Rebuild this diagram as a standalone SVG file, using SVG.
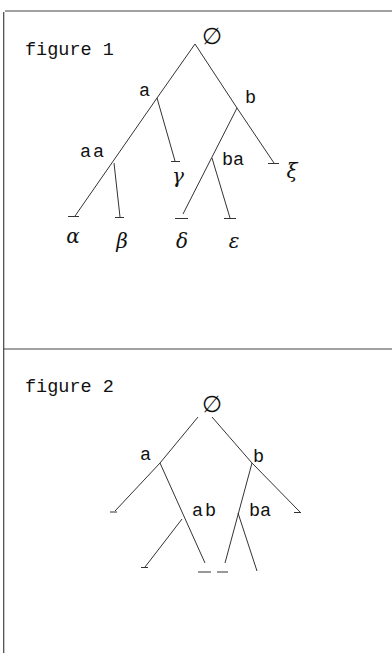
<svg xmlns="http://www.w3.org/2000/svg" width="392" height="653" viewBox="0 0 392 653">
<style>
.t{font-family:"Liberation Mono","DejaVu Sans Mono",monospace;font-size:18.5px;fill:#111}
.g{font-family:"DejaVu Serif","Liberation Serif",serif;font-style:italic;font-size:20px;fill:#111}
.e{font-family:"DejaVu Sans",sans-serif;font-size:23px;fill:#111}
.c line{stroke:#333;stroke-width:1;fill:none}
.f{stroke:#444;stroke-width:1.2;fill:none}
</style>
<rect width="392" height="653" fill="#fff"/>
<g id="frame">
<line class="f" x1="3.7" y1="12" x2="3.7" y2="653"/>
<line class="f" x1="5" y1="11" x2="392" y2="11"/>
<line class="f" x1="4" y1="349" x2="392" y2="349"/>
</g>
<text class="t" x="25" y="55">figure 1</text>
<text class="t" x="25" y="392">figure 2</text>
<g class="c" id="connectors1">
<line x1="195" y1="44" x2="157" y2="98"/>
<line x1="195" y1="44" x2="237" y2="108"/>
<line x1="157" y1="98" x2="75" y2="216"/>
<line x1="114" y1="163" x2="120" y2="217"/>
<line x1="157" y1="98" x2="175" y2="161"/>
<line x1="237" y1="108" x2="183" y2="214"/>
<line x1="212" y1="158" x2="230" y2="218"/>
<line x1="237" y1="108" x2="274" y2="163"/>
<line x1="68" y1="216.5" x2="79" y2="216.5"/>
<line x1="115" y1="217.5" x2="124" y2="217.5"/>
<line x1="171" y1="161.5" x2="180" y2="161.5"/>
<line x1="175" y1="218.5" x2="188" y2="218.5"/>
<line x1="224" y1="218.5" x2="236" y2="218.5"/>
<line x1="268" y1="163.5" x2="279" y2="163.5"/>
</g>
<g id="f1-root"><text class="e" x="202" y="44">∅</text></g>
<g id="f1-a"><text class="t" x="139" y="96">a</text></g>
<g id="f1-b"><text class="t" x="245" y="103">b</text></g>
<g id="f1-aa"><text class="t" x="80" y="157" letter-spacing="2">aa</text></g>
<g id="f1-ba"><text class="t" x="222" y="165">ba</text></g>
<g id="f1-alpha"><text class="g" x="73" y="243" text-anchor="middle">α</text></g>
<g id="f1-beta"><text class="g" x="122" y="248" text-anchor="middle">β</text></g>
<g id="f1-gamma"><text class="g" x="178" y="183" text-anchor="middle">γ</text></g>
<g id="f1-delta"><text class="g" x="182" y="248" text-anchor="middle">δ</text></g>
<g id="f1-epsilon"><text class="g" x="234" y="248" text-anchor="middle">ε</text></g>
<g id="f1-xi"><text class="g" x="292" y="178" text-anchor="middle">ξ</text></g>
<g class="c" id="connectors2">
<line x1="198" y1="417" x2="160" y2="463"/>
<line x1="160" y1="463" x2="115" y2="511"/>
<line x1="212" y1="417" x2="252" y2="463"/>
<line x1="252" y1="463" x2="300" y2="512"/>
<line x1="160" y1="463" x2="205" y2="563"/>
<line x1="182" y1="519" x2="145" y2="567"/>
<line x1="252" y1="463" x2="225" y2="563"/>
<line x1="238" y1="513" x2="257" y2="571"/>
<line x1="110" y1="512" x2="117" y2="512"/>
<line x1="294" y1="512.5" x2="301" y2="512.5"/>
<line x1="141" y1="567.5" x2="148" y2="567.5"/>
<line x1="198" y1="572" x2="211" y2="572"/>
<line x1="217" y1="572" x2="228" y2="572"/>
</g>
<g id="f2-root"><text class="e" x="202" y="412">∅</text></g>
<g id="f2-a"><text class="t" x="140" y="460">a</text></g>
<g id="f2-b"><text class="t" x="253" y="462">b</text></g>
<g id="f2-ab"><text class="t" x="192" y="516" letter-spacing="2">ab</text></g>
<g id="f2-ba"><text class="t" x="249" y="516">ba</text></g>
</svg>
